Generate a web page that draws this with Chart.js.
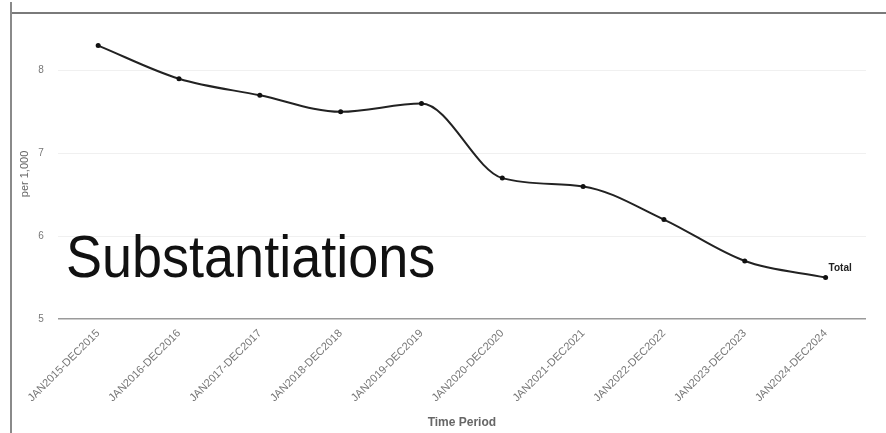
<!DOCTYPE html>
<html>
<head>
<meta charset="utf-8">
<script src="https://cdn.jsdelivr.net/npm/chart.js@4/dist/chart.umd.min.js"></script>
<style>
  html, body { margin: 0; padding: 0; background: #fff; }
  #wrap { position: relative; width: 886px; height: 433px; overflow: hidden; }
  #chart { position: absolute; left: 0; top: 0; }
  .frame-top { position: absolute; left: 11px; top: 12px; width: 875px; height: 2px; background: #7a7a7a; }
  .frame-left { position: absolute; left: 10px; top: 2px; width: 2px; height: 431px; background: #8a8a8a; }
  #bigTitle {
    position: absolute; left: 66px; top: 222px;
    font-family: "Liberation Sans", Arial, sans-serif; font-size: 60px; color: #111;
    transform: scaleX(0.9); transform-origin: left top; white-space: nowrap;
  }
</style>
</head>
<body>
<div id="wrap">
  <canvas id="chart" width="886" height="433"></canvas>
  <div class="frame-top"></div>
  <div class="frame-left"></div>
  <div id="bigTitle">Substantiations</div>
</div>
<script>
const periods = [
    "JAN2015-DEC2015", "JAN2016-DEC2016", "JAN2017-DEC2017", "JAN2018-DEC2018", "JAN2019-DEC2019",
    "JAN2020-DEC2020", "JAN2021-DEC2021", "JAN2022-DEC2022", "JAN2023-DEC2023", "JAN2024-DEC2024"
];
const totalRates = [8.3, 7.9, 7.7, 7.5, 7.6, 6.7, 6.6, 6.2, 5.7, 5.5];
const yTicks = [5, 6, 7, 8];

const fontFamily = '"Liberation Sans", Arial, sans-serif';

// writes "Total" next to the last point of the line
const endLabel = {
    id: 'endLabel',
    afterDatasetsDraw(chart) {
        const meta = chart.getDatasetMeta(0);
        const last = meta.data[meta.data.length - 1];
        const ctx = chart.ctx;
        ctx.save();
        ctx.font = 'bold 10px ' + fontFamily;
        ctx.fillStyle = '#222';
        ctx.textBaseline = 'middle';
        ctx.fillText(chart.data.datasets[0].label, last.x + 3, last.y - 9);
        ctx.restore();
    }
};

const ctx = document.querySelector("#chart").getContext("2d");
new Chart(ctx, {
    type: 'line',
    data: {
        labels: periods,
        datasets: [{
            label: 'Total',
            data: totalRates,
            borderColor: '#222',
            borderWidth: 2,
            backgroundColor: '#111',
            pointRadius: 2.5,
            pointBorderWidth: 0,
            cubicInterpolationMode: 'monotone',
            fill: false
        }]
    },
    options: {
        responsive: false,
        animation: false,
        layout: { padding: { left: 18, right: 20, top: 29, bottom: 3 } },
        plugins: {
            legend: { display: false },
            tooltip: { enabled: false }
        },
        scales: {
            x: {
                offset: true,
                grid: { display: false },
                border: { display: false },
                ticks: {
                    color: '#777',
                    font: { family: fontFamily, size: 11 },
                    minRotation: 45,
                    maxRotation: 45,
                    padding: 0,
                    autoSkip: false
                },
                title: {
                    display: true,
                    text: 'Time Period',
                    color: '#666',
                    font: { family: fontFamily, size: 12, weight: 'bold' },
                    padding: { top: 11, bottom: 0 }
                }
            },
            y: {
                min: 5,
                max: 8.5,
                afterBuildTicks: axis => {
                    axis.ticks = yTicks.map(v => ({ value: v }));
                },
                grid: {
                    drawTicks: false,
                    color: c => c.tick && c.tick.value === 5 ? '#9a9a9a' : '#f0f0f0',
                    lineWidth: c => c.tick && c.tick.value === 5 ? 1.5 : 1
                },
                border: { display: false },
                ticks: {
                    color: '#777',
                    font: { family: fontFamily, size: 10 },
                    padding: 14
                },
                title: {
                    display: true,
                    text: 'per 1,000',
                    color: '#666',
                    font: { family: fontFamily, size: 11 },
                    padding: { top: 0, bottom: -7 }
                }
            }
        }
    },
    plugins: [endLabel]
});
</script>
</body>
</html>
